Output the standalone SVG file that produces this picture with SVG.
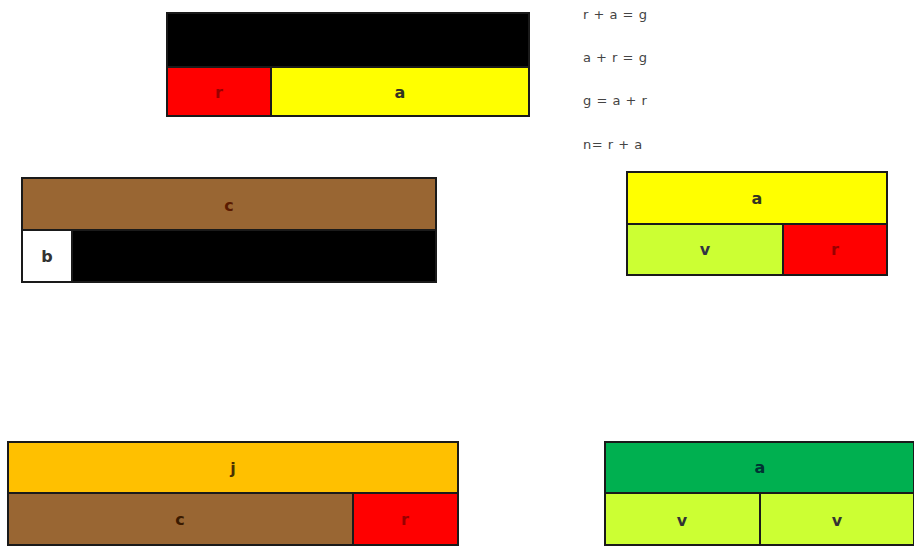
<svg xmlns="http://www.w3.org/2000/svg" width="914" height="550" viewBox="0 0 914 550">
<style>
rect{stroke:#1a1a1a;stroke-width:2}
.lbl{font-family:"DejaVu Sans",sans-serif;font-size:16px;font-weight:bold;text-anchor:middle;dominant-baseline:central}
.eq{font-family:"DejaVu Sans",sans-serif;font-size:13px;fill:#444;letter-spacing:0.5px}
</style>
<rect width="914" height="550" fill="#fff" style="stroke:none"/>
<g id="bar1">
<rect x="167" y="13" width="362" height="54" fill="#000"/>
<rect x="167" y="67" width="104" height="49" fill="#f00"/>
<rect x="271" y="67" width="258" height="49" fill="#ff0"/>
<text class="lbl" x="219" y="92" fill="#900">r</text>
<text class="lbl" x="400" y="92" fill="#332">a</text>
</g>
<g id="equations">
<text class="eq" x="583" y="19">r + a = g</text>
<text class="eq" x="583" y="62">a + r = g</text>
<text class="eq" x="583" y="105">g = a + r</text>
<text class="eq" x="583" y="149">n= r + a</text>
</g>
<g id="bar2">
<rect x="22" y="178" width="414" height="52" fill="#996633"/>
<rect x="22" y="230" width="50" height="52" fill="#fff"/>
<rect x="72" y="230" width="364" height="52" fill="#000"/>
<text class="lbl" x="229" y="205" fill="#5a1a00">c</text>
<text class="lbl" x="47" y="256" fill="#333">b</text>
</g>
<g id="bar3">
<rect x="627" y="172" width="260" height="52" fill="#ff0"/>
<rect x="627" y="224" width="156" height="51" fill="#ccff33"/>
<rect x="783" y="224" width="104" height="51" fill="#f00"/>
<text class="lbl" x="757" y="198" fill="#332">a</text>
<text class="lbl" x="705" y="249" fill="#334">v</text>
<text class="lbl" x="835" y="249" fill="#900">r</text>
</g>
<g id="bar4">
<rect x="8" y="442" width="450" height="51" fill="#ffc000"/>
<rect x="8" y="493" width="345" height="52" fill="#996633"/>
<rect x="353" y="493" width="105" height="52" fill="#f00"/>
<text class="lbl" x="233" y="468" fill="#4a3000">j</text>
<text class="lbl" x="180" y="519" fill="#3a1a00">c</text>
<text class="lbl" x="405" y="519" fill="#900">r</text>
</g>
<g id="bar5">
<rect x="605" y="442" width="309" height="51" fill="#00b050"/>
<rect x="605" y="493" width="155" height="52" fill="#ccff33"/>
<rect x="760" y="493" width="154" height="52" fill="#ccff33"/>
<text class="lbl" x="760" y="467" fill="#033">a</text>
<text class="lbl" x="682" y="520" fill="#333">v</text>
<text class="lbl" x="837" y="520" fill="#333">v</text>
</g>
<g id="connectors"></g>
</svg>
